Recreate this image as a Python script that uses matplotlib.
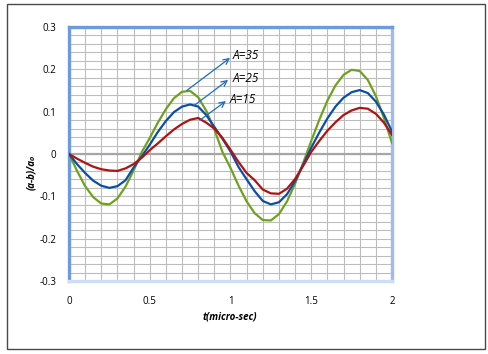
import numpy as np
import matplotlib
matplotlib.use("Agg")
import matplotlib.pyplot as plt
from matplotlib.patches import Rectangle
from matplotlib.ticker import MultipleLocator

plt.rcParams['font.family'] = ['Open Sans', 'DejaVu Sans']

# time axis (micro-sec), read every 0.05
t = np.linspace(0, 2, 41)

# A = 35 (green)
a35 = [0.000, -0.040, -0.076, -0.102, -0.117, -0.119, -0.105, -0.077, -0.039, 0.004,
       0.038, 0.074, 0.106, 0.132, 0.147, 0.149, 0.134, 0.102, 0.058, 0.005,
       -0.033, -0.075, -0.112, -0.140, -0.156, -0.157, -0.142, -0.112, -0.070, -0.021,
       0.031, 0.081, 0.126, 0.162, 0.187, 0.199, 0.196, 0.175, 0.137, 0.085,
       0.026]
# A = 25 (blue)
a25 = [0.000, -0.024, -0.045, -0.063, -0.075, -0.080, -0.076, -0.062, -0.032, -0.006,
       0.022, 0.052, 0.078, 0.099, 0.112, 0.117, 0.112, 0.092, 0.064, 0.036,
       0.006, -0.031, -0.060, -0.088, -0.111, -0.119, -0.114, -0.095, -0.064, -0.025,
       0.015, 0.051, 0.084, 0.112, 0.133, 0.146, 0.151, 0.144, 0.124, 0.093,
       0.053]
# A = 15 (red)
a15 = [0.000, -0.011, -0.021, -0.030, -0.036, -0.039, -0.040, -0.034, -0.024, -0.009,
       0.009, 0.025, 0.042, 0.058, 0.071, 0.081, 0.085, 0.074, 0.060, 0.038,
       0.010, -0.019, -0.045, -0.062, -0.084, -0.093, -0.094, -0.082, -0.059, -0.028,
       0.005, 0.031, 0.055, 0.075, 0.092, 0.103, 0.109, 0.107, 0.095, 0.074,
       0.045]

labels = ['A=35', 'A=25', 'A=15']
# arrow tail (on curve peak), arrow head, text anchor
arrow_tails = [(0.729, 0.150), (0.780, 0.116), (0.811, 0.080)]
arrow_heads = [(0.997, 0.227), (0.985, 0.175), (0.972, 0.125)]
text_pos = [(1.015, 0.232), (1.013, 0.178), (0.997, 0.128)]

fig = plt.figure(figsize=(4.89, 3.54), dpi=100)
ax = fig.add_axes([69 / 489, 1 - 281 / 354, 323 / 489, 254 / 354])

# outer frame
fig.patches.append(Rectangle((7 / 489, 1 - 349 / 354), 478 / 489, 345 / 354,
                             transform=fig.transFigure, fill=False,
                             edgecolor='#4a4a4a', linewidth=1.0))

ax.set_xlim(0, 2)
ax.set_ylim(-0.3, 0.3)
ax.xaxis.set_major_locator(MultipleLocator(0.5))
ax.xaxis.set_minor_locator(MultipleLocator(0.1))
ax.yaxis.set_major_locator(MultipleLocator(0.1))
ax.yaxis.set_minor_locator(MultipleLocator(0.02))
ax.grid(which='both', color='#bdbdbd', linewidth=0.8)
ax.set_axisbelow(True)
ax.axhline(0, color='#a6a6a6', linewidth=1.6, zorder=1)

ax.plot(t, a35, color='#6fa21c', linewidth=1.6, zorder=3, solid_joinstyle='round')
ax.plot(t, a25, color='#0b4ea6', linewidth=1.6, zorder=3, solid_joinstyle='round')
ax.plot(t, a15, color='#b01212', linewidth=1.6, zorder=3, solid_joinstyle='round')

for lab, tail, head, tp in zip(labels, arrow_tails, arrow_heads, text_pos):
    ax.annotate('', xy=head, xytext=tail,
                arrowprops=dict(arrowstyle='->', color='#1c6cc4', lw=0.9,
                                shrinkA=0, shrinkB=0, mutation_scale=10),
                zorder=4)
    ax.text(tp[0], tp[1], lab, fontsize=8.5, fontstyle='italic',
            ha='left', va='center', color='black', zorder=4)

ax.tick_params(which='both', length=0)
ax.tick_params(axis='x', pad=11, labelsize=7)
ax.tick_params(axis='y', pad=9, labelsize=7)
ax.set_xticks([0, 0.5, 1, 1.5, 2])
ax.set_xticklabels(['0', '0.5', '1', '1.5', '2'])
ax.set_yticks([-0.3, -0.2, -0.1, 0, 0.1, 0.2, 0.3])
ax.set_yticklabels(['-0.3', '-0.2', '-0.1', '0', '0.1', '0.2', '0.3'])

ax.spines['left'].set_color('#6f9ae0')
ax.spines['top'].set_color('#6f9ae0')
ax.spines['right'].set_color('#9dbbee')
ax.spines['bottom'].set_color('#cfdef6')
for s in ax.spines.values():
    s.set_linewidth(2.4)

fig.text(230 / 489, 1 - 317 / 354, 't(micro-sec)', fontsize=7, fontweight='bold',
         fontstyle='italic', ha='center', va='center')
fig.text(32 / 489, 1 - 172 / 354, '(a-b)/a\u2080', fontsize=7, fontweight='bold',
         fontstyle='italic', ha='center', va='center', rotation=90)

fig.savefig('out.png', dpi=100)
